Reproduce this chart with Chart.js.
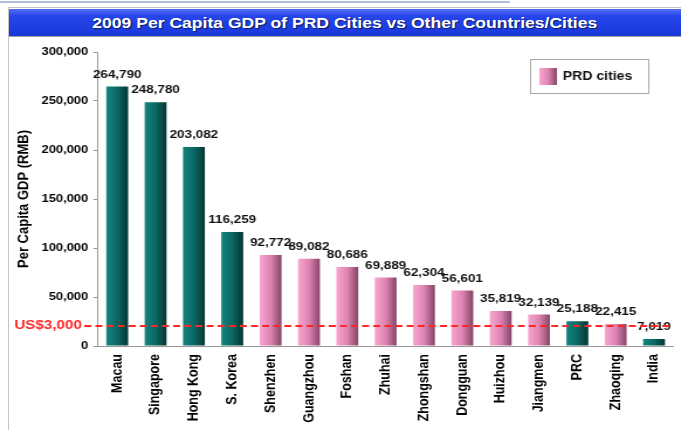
<!DOCTYPE html>
<html>
<head>
<meta charset="utf-8">
<script src="https://cdn.jsdelivr.net/npm/chart.js@4.4.1/dist/chart.umd.min.js"></script>
<style>
  body { margin: 0; width: 681px; height: 430px; overflow: hidden; background: #fff; position: relative;
         font-family: "Liberation Sans", Arial, sans-serif; }
  #topline { position: absolute; left: 0; top: 1px; width: 510px; height: 2px; background: #b4badf; }
  #frame { position: absolute; left: 8px; top: 7px; right: 0; bottom: 0;
           border-left: 1px solid #c4c4c4; border-top: 1px solid #c4c4c4; }
  #titlebar { position: absolute; left: 9px; top: 9px; width: 672px; height: 27px;
              background: linear-gradient(#5270f4 0%, #2646ea 25%, #1a38da 100%);
              border-bottom: 1px solid #a0a0a0; color: #fff; font-weight: bold; font-size: 15px;
              text-align: center; line-height: 27px; text-shadow: 1px 1px 1px rgba(0,0,0,0.55); }
  #titlebar span { display: inline-block; transform: scaleX(1.17); }
  /* the reference is stretched sideways, so the chart is drawn narrow and scaled */
  #wrap { position: absolute; left: 0; top: 38px; width: 582px; height: 392px;
          transform: scaleX(1.17); transform-origin: 0 0; }
</style>
</head>
<body>
<div id="topline"></div>
<div id="frame"></div>
<div id="titlebar"><span>2009 Per Capita GDP of PRD Cities vs Other Countries/Cities</span></div>
<div id="wrap"><canvas id="myChart"></canvas></div>
<script>
const cities = ['Macau', 'Singapore', 'Hong Kong', 'S. Korea', 'Shenzhen', 'Guangzhou', 'Foshan', 'Zhuhai',
                'Zhongshan', 'Dongguan', 'Huizhou', 'Jiangmen', 'PRC', 'Zhaoqing', 'India'];
const gdpValues = [264790, 248780, 203082, 116259, 92772, 89082, 80686, 69889,
                   62304, 56601, 35819, 32139, 25188, 22415, 7019];
const isPrd = [false, false, false, false, true, true, true, true,
               true, true, true, true, false, true, false];
const yTickValues = [0, 50000, 100000, 150000, 200000, 250000, 300000];
const thresholdValue = 20490;   // US$3,000 in RMB
const thresholdLabel = 'US$3,000';
const legendLabel = 'PRD cities';

const barPct = 0.57;
const FONT = '"Liberation Sans", Arial, sans-serif';

const makeGradient = (c, x0, x1, prd) => {
    const g = c.createLinearGradient(x0, 0, x1, 0);
    if (prd) {
        g.addColorStop(0, '#f9a6d0');
        g.addColorStop(0.5, '#de84b3');
        g.addColorStop(1, '#854466');
    } else {
        g.addColorStop(0, '#14857f');
        g.addColorStop(0.5, '#0b6864');
        g.addColorStop(1, '#043632');
    }
    return g;
}

const barFill = (context) => {
    const chart = context.chart;
    const xs = chart.scales.x;
    const prd = isPrd[context.dataIndex];
    if (!xs || !chart.chartArea || context.dataIndex === undefined) return prd ? '#de84b3' : '#0b6864';
    const cx = xs.getPixelForValue(context.dataIndex);
    const half = xs.width / cities.length * barPct / 2;
    return makeGradient(chart.ctx, cx - half, cx + half, prd);
}

const extras = {
    id: 'extras',
    afterDatasetsDraw(chart) {
        const {ctx, chartArea, scales: {y}} = chart;
        const meta = chart.getDatasetMeta(0);
        ctx.save();

        // value labels
        ctx.font = 'bold 11.5px ' + FONT;
        ctx.fillStyle = '#111';
        ctx.textAlign = 'center';
        ctx.textBaseline = 'alphabetic';
        meta.data.forEach((bar, i) => {
            ctx.fillText(gdpValues[i].toLocaleString('en-US'), bar.x, bar.y - 9);
        });

        // US$3,000 line
        const ty = y.getPixelForValue(thresholdValue);
        ctx.strokeStyle = '#ff2626';
        ctx.lineWidth = 2;
        ctx.setLineDash([6, 3.5]);
        ctx.beginPath();
        ctx.moveTo(72, ty);
        ctx.lineTo(chartArea.right, ty);
        ctx.stroke();
        ctx.setLineDash([]);
        ctx.fillStyle = '#ff2626';
        ctx.font = 'bold 13px ' + FONT;
        ctx.textAlign = 'right';
        ctx.textBaseline = 'middle';
        ctx.fillText(thresholdLabel, 70, ty);

        // legend box
        ctx.fillStyle = '#fff';
        ctx.fillRect(453, 21, 101, 34);
        ctx.strokeStyle = '#a8a8a8';
        ctx.lineWidth = 1;
        ctx.strokeRect(453.5, 21.5, 101, 34);
        ctx.fillStyle = makeGradient(ctx, 461, 476, true);
        ctx.fillRect(461, 30, 15, 17);
        ctx.fillStyle = '#111';
        ctx.font = 'bold 12px ' + FONT;
        ctx.textAlign = 'left';
        ctx.fillText(legendLabel, 481, 39);

        ctx.restore();
    }
};

const data = {
    labels: cities,
    datasets: [{
        label: legendLabel,
        data: gdpValues,
        backgroundColor: barFill,
        borderWidth: 0,
        barPercentage: barPct,
        categoryPercentage: 1
    }]
};

const config = {
    type: 'bar',
    data: data,
    options: {
        responsive: true,
        maintainAspectRatio: false,
        animation: false,
        layout: { padding: { top: 14, right: 0, bottom: 0, left: 0 } },
        plugins: { legend: { display: false }, tooltip: { enabled: false } },
        scales: {
            x: {
                grid: { display: true, drawOnChartArea: false, drawTicks: false, color: '#999' },
                border: { color: '#999' },
                ticks: { maxRotation: 90, minRotation: 90, autoSkip: false, padding: 8,
                         color: '#000', font: { family: FONT, size: 12.5, weight: 'bold' } },
                afterFit: (scale) => { scale.height = 84; }
            },
            y: {
                min: 0,
                max: 300000,
                afterBuildTicks: (scale) => { scale.ticks = yTickValues.map(v => ({value: v})); },
                grid: { drawOnChartArea: false, tickLength: 4, color: '#999' },
                border: { color: '#999' },
                ticks: { padding: 4.5, color: '#000', font: { family: FONT, size: 11, weight: 'bold' },
                         callback: (v) => v.toLocaleString('en-US') },
                title: { display: true, text: 'Per Capita GDP (RMB)', color: '#000',
                         font: { family: FONT, size: 13, weight: 'bold' }, padding: { top: 13, bottom: 0 } },
                afterFit: (scale) => { scale.width = 83.8; }
            }
        }
    },
    plugins: [extras]
};

const myChart = new Chart(document.getElementById('myChart'), config);
</script>
</body>
</html>
